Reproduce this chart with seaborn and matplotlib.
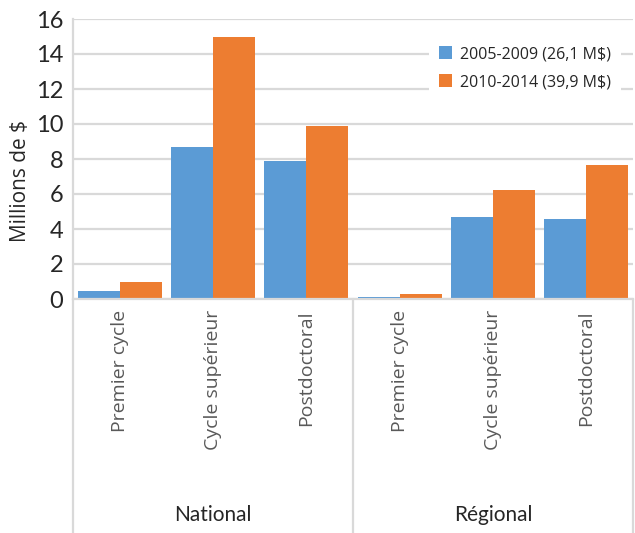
import pandas as pd
import matplotlib
matplotlib.use("Agg")
import matplotlib.pyplot as plt
import matplotlib.transforms as mtransforms
import seaborn as sns

# data
regions = ["National", "Régional"]
levels = ["Premier cycle", "Cycle supérieur", "Postdoctoral"]
periods = ["2005-2009 (26,1 M$)", "2010-2014 (39,9 M$)"]
vals_2005 = [0.45, 8.7, 7.9, 0.1, 4.7, 4.55]
vals_2010 = [0.95, 15.0, 9.9, 0.3, 6.25, 7.65]
yticks = [0, 2, 4, 6, 8, 10, 12, 14, 16]
colors = ["#5B9BD5", "#ED7D31"]
grid_col = "#D9D9D9"
text_col = "#262626"
open_sans = ["Open Sans", "DejaVu Sans"]

sns.set_style("white")
plt.rcParams["font.family"] = ["Lato", "DejaVu Sans"]

slots = [f"{r}|{l}" for r in regions for l in levels]
df = pd.DataFrame({
    "slot": slots * 2,
    "value": vals_2005 + vals_2010,
    "period": [periods[0]] * len(slots) + [periods[1]] * len(slots),
})

fig = plt.figure(figsize=(6.35, 5.33), dpi=100)
ax = fig.add_axes([73 / 635, 234 / 533, 560 / 635, 280 / 533])
sns.barplot(data=df, x="slot", y="value", hue="period", order=slots,
            hue_order=periods, palette=colors, width=0.9, linewidth=0,
            saturation=1, ax=ax)

ax.set_ylim(0, 16)
ax.set_xlim(-0.5, len(slots) - 0.5)
ax.set_yticks(yticks)
ax.yaxis.grid(True, color=grid_col, lw=1.6)
ax.set_axisbelow(True)
for s in ["top", "right"]:
    ax.spines[s].set_visible(False)
for s in ["left", "bottom"]:
    ax.spines[s].set_color(grid_col)
    ax.spines[s].set_linewidth(1.6)

ax.tick_params(axis="y", length=0, pad=7, labelsize=17, labelcolor=text_col)
ax.tick_params(axis="x", length=0, pad=8)
ax.set_xticks(range(len(slots)))
ax.set_xticklabels(levels * len(regions), rotation=90, fontsize=14,
                   color="#595959", va="top", family=open_sans)
ax.set_xlabel("")
ax.set_ylabel("Millions de $", fontsize=15, family=open_sans, color=text_col)
ax.yaxis.set_label_coords(-0.075, 0.42)

# group labels and divider lines under the axis
trans = mtransforms.blended_transform_factory(ax.transData, ax.transAxes)
for i, r in enumerate(regions):
    ax.text(i * 3 + 1, -0.77, r, transform=trans, ha="center", va="center",
            fontsize=15, color=text_col)
for xd in [-0.5, 2.5, 5.5]:
    ax.plot([xd, xd], [0, -0.84], transform=trans, color=grid_col, lw=1.6,
            clip_on=False)

ax.legend(loc="upper left", bbox_to_anchor=(0.622, 0.965), frameon=True,
          facecolor="white", edgecolor="none", framealpha=1,
          handlelength=0.85, handleheight=0.85, handletextpad=0.5,
          labelspacing=0.75, borderpad=0.6, fancybox=False,
          prop={"family": open_sans, "size": 11.5})

fig.savefig("out.png", dpi=100)
